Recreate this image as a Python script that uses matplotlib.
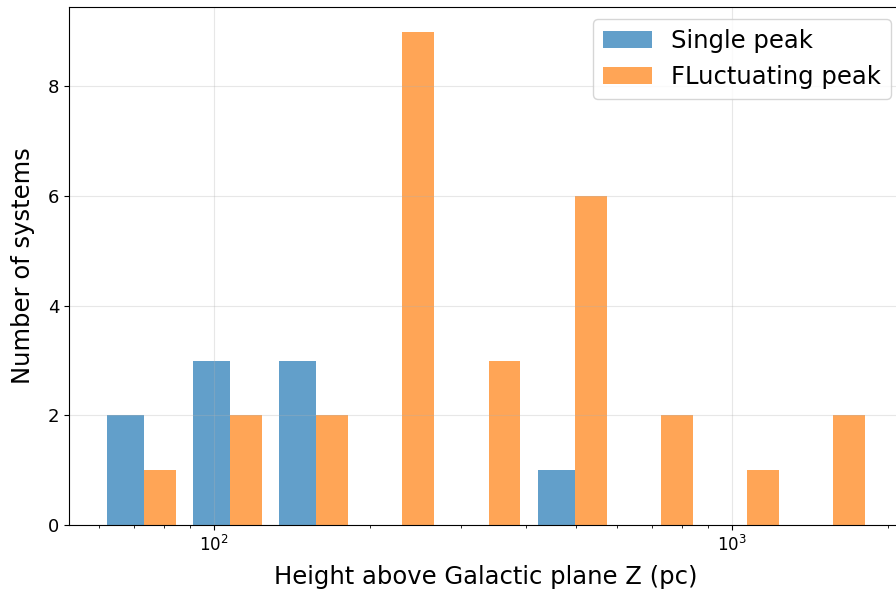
import numpy as np
import matplotlib

matplotlib.use("Agg")
import matplotlib.pyplot as plt

# log-spaced bin edges in Z (pc)
z_min, z_max, n_bins = 59.4, 1866.0, 9
single_counts = [2, 3, 3, 0, 0, 1, 0, 0, 0]
fluct_counts = [1, 2, 2, 9, 3, 6, 2, 1, 2]
labels = ["Single peak", "FLuctuating peak"]
colors = ["tab:blue", "tab:orange"]

bins = np.logspace(np.log10(z_min), np.log10(z_max), n_bins + 1)
centers = np.sqrt(bins[:-1] * bins[1:])

fig = plt.figure(figsize=(8.96, 5.91), dpi=100)
W, H = 896, 591
ax = fig.add_axes([69 / W, 1 - 525 / H, (903 - 69) / W, (525 - 7) / H])

ax.hist([centers, centers], bins=bins, weights=[single_counts, fluct_counts],
        rwidth=0.8, alpha=0.7, color=colors, label=labels)
ax.set_xscale("log")
ax.grid(alpha=0.3)

ax.set_xlabel("Height above Galactic plane Z (pc)", fontsize=17.5, labelpad=7)
ax.set_ylabel("Number of systems", fontsize=17.5, labelpad=9)
ax.tick_params(axis="y", labelsize=13)
ax.tick_params(axis="x", labelsize=12)
ax.legend(fontsize=17.5, loc="upper right")

fig.savefig("out.png", dpi=100)
